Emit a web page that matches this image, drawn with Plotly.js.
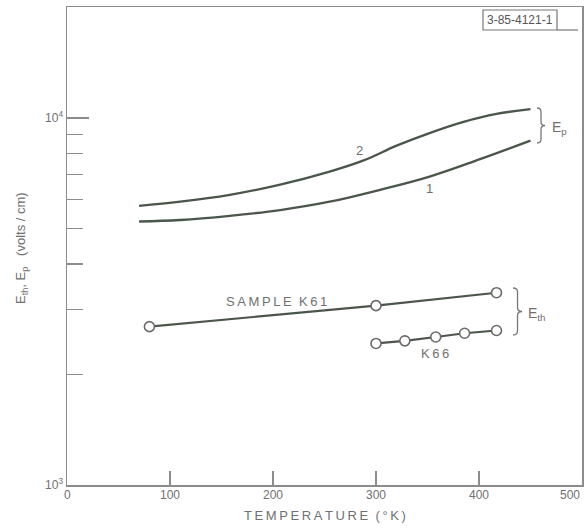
<!DOCTYPE html>
<html>
<head>
<meta charset="utf-8">
<script src="https://cdn.plot.ly/plotly-3.0.1.min.js"></script>
<style>html,body{margin:0;padding:0;background:#fff;}#chart{width:588px;height:530px;}</style>
</head>
<body>
<div id="chart"></div>
<script>
// ---- data ----
const curve2T = [70, 110, 158, 207, 255, 288, 320, 352, 385, 417, 450];
const curve2E = [5760, 5910, 6170, 6580, 7140, 7660, 8400, 9090, 9750, 10250, 10560];
const curve1T = [70, 110, 158, 207, 255, 304, 352, 401, 450];
const curve1E = [5220, 5270, 5410, 5610, 5910, 6370, 6920, 7720, 8670];
const k61T = [80, 300, 417];
const k61E = [2700, 3080, 3340];
const k66T = [300, 328, 358, 386, 417];
const k66E = [2430, 2470, 2530, 2590, 2635];
const xTickVals = [0, 100, 200, 300, 400, 500];
const xTickText = ['0', '100', '200', '300', '400', '500'];
const yTickVals = [1000, 10000];
const yTickText = ['10<sup>3</sup>', '10<sup>4</sup>'];
const yMinorVals = [2000, 3000, 4000, 5000, 6000, 7000, 8000, 9000];
const xRange = [0, 500];
const yRangeLog = [3, 4.302];

const LINE = '#4a564a';
const AXIS = '#8c8c8c';
const TXT = '#707070';
const FONT = 'Liberation Sans, Arial, sans-serif';

// plot-area geometry helpers (pixels -> paper)
const L = 67, R = 6, T = 7, B = 45, W = 588, H = 530;
const PW = W - L - R, PH = H - T - B;
const X = px => (px - L) / PW;
const Y = py => (H - B - py) / PH;

function brace(xl, top, bot, w) {
  const xm = xl + w / 2, xr = xl + w, mid = (top + bot) / 2, r = 4;
  const p = (a, b) => X(a).toFixed(4) + ',' + Y(b).toFixed(4);
  return 'M' + p(xl, top) + ' Q' + p(xm, top) + ' ' + p(xm, top + r) +
         ' L' + p(xm, mid - r) + ' Q' + p(xm, mid) + ' ' + p(xr, mid) +
         ' Q' + p(xm, mid) + ' ' + p(xm, mid + r) +
         ' L' + p(xm, bot - r) + ' Q' + p(xm, bot) + ' ' + p(xl, bot);
}

const sp = s => s.split('').join('\u2009');

const traces = [
  {x: curve2T, y: curve2E, mode: 'lines', line: {color: LINE, width: 2.3, shape: 'spline', smoothing: 1.1}, hoverinfo: 'skip'},
  {x: curve1T, y: curve1E, mode: 'lines', line: {color: LINE, width: 2.3, shape: 'spline', smoothing: 1.1}, hoverinfo: 'skip'},
  {x: k61T, y: k61E, mode: 'lines+markers', line: {color: LINE, width: 2.2},
   marker: {symbol: 'circle', size: 10, color: '#fff', line: {color: '#6a6a6a', width: 1.6}}},
  {x: k66T, y: k66E, mode: 'lines+markers', line: {color: LINE, width: 2.2},
   marker: {symbol: 'circle', size: 10, color: '#fff', line: {color: '#6a6a6a', width: 1.6}}}
];

const C = {xanchor: 'center', yanchor: 'middle', showarrow: false};
const annotations = [];
xTickVals.forEach((v, i) => {
  annotations.push(Object.assign({}, C, {x: v, xref: 'x', y: Y(495), yref: 'paper', text: xTickText[i],
    xanchor: i === xTickVals.length - 1 ? 'right' : 'center',
    font: {family: FONT, size: 12, color: TXT}}));
});
annotations.push(
  Object.assign({}, C, {x: 0.5, xref: 'paper', y: Y(515), yref: 'paper', text: sp('TEMPERATURE') + '  ' + sp('(°K)'),
   font: {family: FONT, size: 13, color: TXT}}),
  Object.assign({}, C, {x: X(22), xref: 'paper', y: Y(248), yref: 'paper', textangle: -90,
   text: 'E<sub>th</sub>, E<sub>p</sub>   (volts / cm)', font: {family: FONT, size: 13, color: TXT}}),
  Object.assign({}, C, {x: 284, y: Math.log10(8130), text: '2', font: {family: FONT, size: 13, color: TXT}}),
  Object.assign({}, C, {x: 352, y: Math.log10(6440), text: '1', font: {family: FONT, size: 13, color: TXT}}),
  Object.assign({}, C, {x: 203, y: Math.log10(3170), text: sp('SAMPLE') + '  ' + sp('K61'), font: {family: FONT, size: 13, color: TXT}}),
  Object.assign({}, C, {x: 357, y: Math.log10(2275), text: sp('K66'), font: {family: FONT, size: 13, color: TXT}}),
  Object.assign({}, C, {x: X(550), xref: 'paper', y: Y(128), yref: 'paper', xanchor: 'left', text: 'E<sub>p</sub>',
   font: {family: FONT, size: 14, color: TXT}}),
  Object.assign({}, C, {x: X(526), xref: 'paper', y: Y(314), yref: 'paper', xanchor: 'left', text: 'E<sub>th</sub>',
   font: {family: FONT, size: 14, color: TXT}}),
  Object.assign({}, C, {x: X(520), xref: 'paper', y: Y(20), yref: 'paper', text: '3-85-4121-1',
   font: {family: 'Liberation Sans Narrow, ' + FONT, size: 12, color: '#555'}})
);

const shapes = [
  {type: 'rect', xref: 'paper', yref: 'paper', x0: X(483), x1: X(557), y0: Y(30), y1: Y(10), line: {color: '#777', width: 1.2}},
  {type: 'line', xref: 'paper', yref: 'paper', x0: X(557), x1: X(578), y0: Y(30), y1: Y(30), line: {color: '#777', width: 1.2}},
  {type: 'path', xref: 'paper', yref: 'paper', path: brace(537, 108, 143, 8), line: {color: '#777', width: 1.3}},
  {type: 'path', xref: 'paper', yref: 'paper', path: brace(513, 288, 335, 9), line: {color: '#777', width: 1.3}}
];

const layout = {
  width: W, height: H,
  margin: {l: L, r: R, t: T, b: B, pad: 0},
  paper_bgcolor: '#fff', plot_bgcolor: '#fff',
  showlegend: false,
  font: {family: FONT, color: TXT},
  xaxis: {range: xRange, showgrid: false, zeroline: false, showline: true, mirror: true,
    linecolor: AXIS, linewidth: 1.5, ticks: 'inside', ticklen: 14, tickcolor: AXIS, tickwidth: 1.3,
    tickmode: 'array', tickvals: xTickVals.slice(1, -1), showticklabels: false},
  yaxis: {type: 'log', range: yRangeLog, showgrid: false, zeroline: false, showline: true, mirror: true,
    linecolor: AXIS, linewidth: 1.5, ticks: 'inside', ticklen: 22, tickcolor: AXIS, tickwidth: 1.3,
    tickmode: 'array', tickvals: yTickVals, ticktext: yTickText,
    tickfont: {family: FONT, size: 12, color: TXT},
    minor: {tickmode: 'array', tickvals: yMinorVals, ticks: 'inside', ticklen: 16, tickcolor: AXIS, tickwidth: 1.3, showgrid: false}},
  annotations: annotations,
  shapes: shapes
};

Plotly.newPlot('chart', traces, layout, {staticPlot: true, displayModeBar: false});
</script>
</body>
</html>
